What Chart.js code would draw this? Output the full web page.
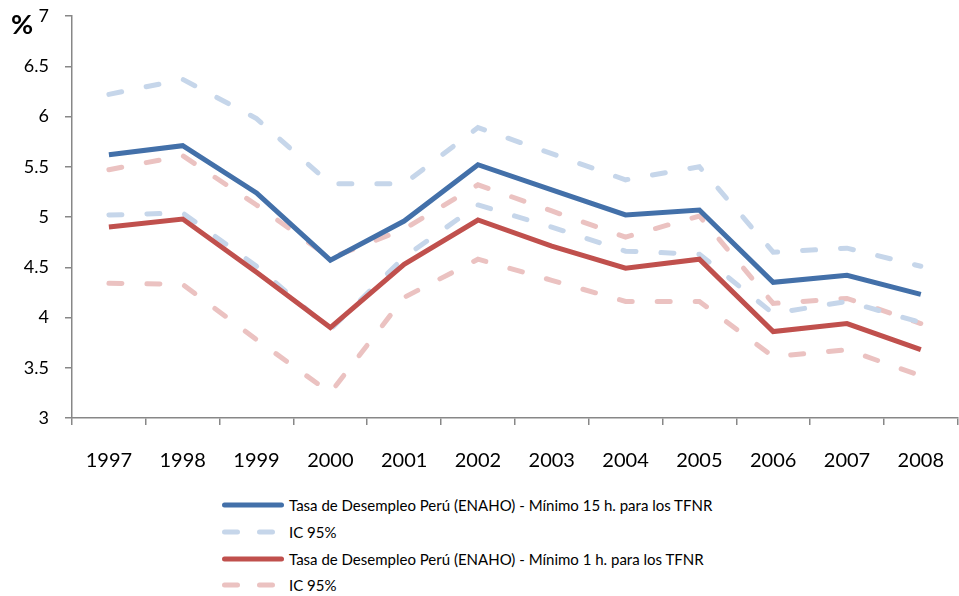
<!DOCTYPE html>
<html>
<head>
<meta charset="utf-8">
<script src="https://cdn.jsdelivr.net/npm/chart.js@4.4.1/dist/chart.umd.min.js"></script>
<style>
  body { margin: 0; background: #fff; font-family: Lato, sans-serif; }
  #wrap { position: relative; width: 959px; height: 596px; overflow: hidden; }
  #chart { position: absolute; left: 0; top: 0; }
  #pct { position: absolute; left: 11px; top: 7px; font: bold 27px Lato, sans-serif; color: #000; }
  #legend { position: absolute; left: 222px; top: 492px; }
  .row { height: 26.7px; display: flex; align-items: center; font-size: 15px; color: #000; }
  .row svg { margin-right: 5px; }
</style>
</head>
<body>
<div id="wrap">
  <canvas id="chart" width="968" height="480"></canvas>
  <div id="pct">%</div>
  <div id="legend"></div>
</div>
<script>
const years = ['1997', '1998', '1999', '2000', '2001', '2002', '2003', '2004', '2005', '2006', '2007', '2008'];

// Mínimo 15 h. para los TFNR
const tasa15 = [5.62, 5.71, 5.24, 4.57, 4.96, 5.52, 5.27, 5.02, 5.07, 4.35, 4.42, 4.23];
const tasa15Sup = [6.22, 6.37, 5.98, 5.33, 5.33, 5.89, 5.63, 5.37, 5.50, 4.65, 4.69, 4.51];
const tasa15Inf = [5.02, 5.04, 4.51, 3.88, 4.60, 5.12, 4.90, 4.66, 4.63, 4.04, 4.16, 3.95];

// Mínimo 1 h. para los TFNR
const tasa1 = [4.90, 4.98, 4.45, 3.90, 4.53, 4.97, 4.71, 4.49, 4.58, 3.86, 3.94, 3.68];
const tasa1Sup = [5.47, 5.61, 5.12, 4.59, 4.88, 5.32, 5.06, 4.80, 5.01, 4.14, 4.19, 3.94];
const tasa1Inf = [4.34, 4.33, 3.78, 3.25, 4.20, 4.58, 4.37, 4.16, 4.16, 3.61, 3.68, 3.42];

const yTicks = [3, 3.5, 4, 4.5, 5, 5.5, 6, 6.5, 7];

const blue = '#4370a9';
const blueLight = '#c6d6ea';
const red = '#c0504d';
const redLight = '#ebc2c1';
const axisColor = '#878787';

function mainLine(label, data, color) {
    return {
        label: label,
        data: data,
        borderColor: color,
        backgroundColor: color,
        borderWidth: 5,
        pointRadius: 0,
        tension: 0,
        order: 0
    };
}

function ciLine(label, data, color, inLegend) {
    return {
        label: label,
        data: data,
        borderColor: color,
        backgroundColor: color,
        borderWidth: 5,
        borderDash: [13, 25],
        borderCapStyle: 'round',
        pointRadius: 0,
        tension: 0,
        order: 1,
        inLegend: inLegend
    };
}

const datasets = [
    mainLine('Tasa de Desempleo Perú (ENAHO) - Mínimo 15 h. para los TFNR', tasa15, blue),
    ciLine('IC 95%', tasa15Sup, blueLight, true),
    ciLine('IC 95%', tasa15Inf, blueLight, false),
    mainLine('Tasa de Desempleo Perú (ENAHO) - Mínimo 1 h. para los TFNR', tasa1, red),
    ciLine('IC 95%', tasa1Sup, redLight, true),
    ciLine('IC 95%', tasa1Inf, redLight, false)
];

const chart = new Chart(document.getElementById('chart'), {
    type: 'line',
    data: { labels: years, datasets: datasets },
    options: {
        responsive: false,
        animation: false,
        devicePixelRatio: 1,
        layout: { padding: { top: 16, left: 0, right: 0, bottom: 0 } },
        plugins: {
            legend: { display: false },
            tooltip: { enabled: false }
        },
        scales: {
            x: {
                offset: true,
                grid: {
                    offset: true,
                    drawOnChartArea: false,
                    color: axisColor,
                    tickLength: 7,
                    lineWidth: 1.5
                },
                border: { color: axisColor, width: 1.5 },
                ticks: {
                    color: '#000',
                    padding: 24,
                    maxRotation: 0,
                    font: { family: 'Lato', size: 20 }
                },
                afterFit: scale => { scale.height = 62; }
            },
            y: {
                min: 3,
                max: 7,
                afterBuildTicks: scale => {
                    scale.ticks = yTicks.map(v => ({ value: v }));
                },
                grid: {
                    drawOnChartArea: false,
                    color: axisColor,
                    tickLength: 7,
                    lineWidth: 1.5
                },
                border: { color: axisColor, width: 1.5 },
                ticks: {
                    color: '#000',
                    padding: 16,
                    font: { family: 'Lato', size: 18 },
                    callback: v => String(v)
                },
                afterFit: scale => {
                    scale.width = 72;
                    scale.paddingTop = 0;
                    scale.paddingBottom = 0;
                }
            }
        }
    }
});

// legend below the chart, one entry per row
const legend = document.getElementById('legend');
chart.data.datasets.forEach(ds => {
    if (ds.inLegend === false) return;
    const row = document.createElement('div');
    row.className = 'row';
    const dash = ds.borderDash ? 'stroke-dasharray="13 22"' : '';
    const x2 = ds.borderDash ? 51 : 59.5;
    row.innerHTML = '<svg width="62" height="8"><line x1="2.5" y1="4" x2="' + x2 + '" y2="4" stroke="' +
        ds.borderColor + '" stroke-width="5" stroke-linecap="round" ' + dash + '/></svg><span>' + ds.label + '</span>';
    legend.appendChild(row);
});
</script>
</body>
</html>
